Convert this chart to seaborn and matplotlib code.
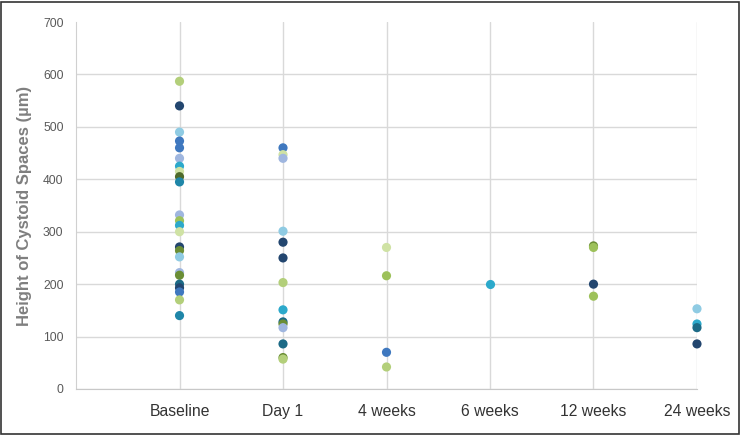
import seaborn as sns
import matplotlib.pyplot as plt
import pandas as pd

# colours (Excel "blue-green" style theme)
navy = "#23466f"
blue = "#3f78bf"
lightblue = "#8fcbe3"
bluegray = "#9fb6df"
teal = "#2ca9cb"
darkteal = "#1c6a86"
midteal = "#1f86a8"
green = "#9dc15a"
lightgreen = "#b3cf7a"
palegreen = "#cfe2a4"
olive = "#6b8e35"
darkolive = "#4f6b2a"

categories = ["Baseline", "Day 1", "4 weeks", "6 weeks", "12 weeks", "24 weeks"]

baseline_vals = [587, 540, 490, 473, 460, 440, 425, 415, 405, 395, 332, 321, 312, 300,
                 271, 264, 252, 222, 217, 200, 193, 185, 170, 140]
baseline_cols = [lightgreen, navy, lightblue, blue, blue, bluegray, teal, palegreen, darkolive, midteal,
                 bluegray, green, teal, palegreen, navy, olive, lightblue, bluegray, olive,
                 darkteal, navy, blue, lightgreen, midteal]

day1_vals = [460, 447, 440, 301, 280, 250, 203, 151, 128, 124, 117, 86, 60, 57]
day1_cols = [blue, palegreen, bluegray, lightblue, navy, navy, lightgreen, teal,
             darkteal, olive, bluegray, darkteal, olive, lightgreen]

wk4_vals = [270, 216, 70, 42]
wk4_cols = [palegreen, green, blue, lightgreen]

wk6_vals = [200]
wk6_cols = [teal]

wk12_vals = [273, 270, 200, 177]
wk12_cols = [olive, green, navy, green]

wk24_vals = [153, 124, 117, 86]
wk24_cols = [lightblue, teal, darkteal, navy]

groups = [baseline_vals, day1_vals, wk4_vals, wk6_vals, wk12_vals, wk24_vals]
group_cols = [baseline_cols, day1_cols, wk4_cols, wk6_cols, wk12_cols, wk24_cols]

rows = []
for cat, vals, cols in zip(categories, groups, group_cols):
    for v, c in zip(vals, cols):
        rows.append({"time": cat, "height": v, "color": c})
df = pd.DataFrame(rows)

sns.set_style("white")
plt.rcParams["font.family"] = ["Liberation Sans", "DejaVu Sans"]

fig = plt.figure(figsize=(7.41, 4.36), dpi=100)
ax = fig.add_axes([0.1026, 0.1078, 0.838, 0.8417])

sns.stripplot(data=df, x="time", y="height", hue="color", order=categories,
              palette={c: c for c in df["color"].unique()}, jitter=False,
              size=6.6, linewidth=0, legend=False, ax=ax, zorder=3)
for coll in ax.collections:
    coll.set_clip_on(False)

ax.set_xlim(-1, 5)
ax.set_ylim(0, 700)
ax.set_yticks(range(0, 701, 100))
ax.set_axisbelow(True)
ax.grid(True, color="#d9d9d9", lw=1)
ax.yaxis.get_gridlines()[-1].set_visible(False)

for s in ["top", "right"]:
    ax.spines[s].set_visible(False)
ax.spines["left"].set_color("#d0d0d0")
ax.spines["bottom"].set_color("#c8c8c8")

ax.tick_params(axis="y", length=0, pad=9, labelsize=8.7, labelcolor="#595959")
ax.tick_params(axis="x", length=0, pad=11, labelsize=11.3, labelcolor="#333333")
ax.set_xlabel("")
ax.set_ylabel("Height of Cystoid Spaces (µm)", fontsize=12, fontweight="bold",
              color="#7f7f7f", labelpad=8)

# outer frame
fig.add_artist(plt.Rectangle((0.002, 0.004), 0.995, 0.992, transform=fig.transFigure,
                             fill=False, edgecolor="#333333", lw=1.2))

plt.savefig("out.png", dpi=100)
